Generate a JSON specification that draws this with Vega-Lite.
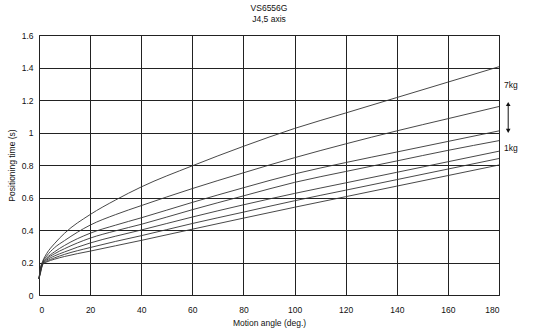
{
  "$schema": "https://vega.github.io/schema/vega-lite/v6.json",
  "width": 460,
  "height": 260,
  "autosize": "none",
  "padding": {"left": 39, "top": 35, "right": 51, "bottom": 33},
  "background": "white",
  "config": {
    "font": "Liberation Sans",
    "view": {"stroke": "#222", "strokeWidth": 1},
    "axis": {"labelFont": "Liberation Sans", "titleFont": "Liberation Sans", "labelFontSize": 8.5, "titleFontSize": 8.5, "titleFontWeight": "normal", "labelColor": "#111", "titleColor": "#111", "gridColor": "#222", "gridOpacity": 1, "gridWidth": 1, "domain": false, "ticks": false, "labelOverlap": false}
  },
  "title": {"text": ["VS6556G", "J4,5 axis"], "fontSize": 8.5, "fontWeight": "normal", "font": "Liberation Sans", "color": "#111", "offset": 8, "lineHeight": 11, "anchor": "middle"},
  "datasets": {
    "curves": [
      {"kg": 7, "a": 0, "t": 0.10}, {"kg": 7, "a": 0.5, "t": 0.16}, {"kg": 7, "a": 1.5, "t": 0.21}, {"kg": 7, "a": 3, "t": 0.255}, {"kg": 7, "a": 6, "t": 0.315}, {"kg": 7, "a": 10, "t": 0.38}, {"kg": 7, "a": 20, "t": 0.495}, {"kg": 7, "a": 30, "t": 0.585}, {"kg": 7, "a": 40, "t": 0.665}, {"kg": 7, "a": 60, "t": 0.795}, {"kg": 7, "a": 80, "t": 0.915}, {"kg": 7, "a": 100, "t": 1.025}, {"kg": 7, "a": 120, "t": 1.12}, {"kg": 7, "a": 140, "t": 1.215}, {"kg": 7, "a": 160, "t": 1.31}, {"kg": 7, "a": 180, "t": 1.405},
      {"kg": 6, "a": 0, "t": 0.10}, {"kg": 6, "a": 0.5, "t": 0.155}, {"kg": 6, "a": 1.5, "t": 0.205}, {"kg": 6, "a": 3, "t": 0.24}, {"kg": 6, "a": 6, "t": 0.29}, {"kg": 6, "a": 10, "t": 0.335}, {"kg": 6, "a": 20, "t": 0.43}, {"kg": 6, "a": 30, "t": 0.495}, {"kg": 6, "a": 40, "t": 0.55}, {"kg": 6, "a": 60, "t": 0.655}, {"kg": 6, "a": 80, "t": 0.752}, {"kg": 6, "a": 100, "t": 0.845}, {"kg": 6, "a": 120, "t": 0.93}, {"kg": 6, "a": 140, "t": 1.01}, {"kg": 6, "a": 160, "t": 1.085}, {"kg": 6, "a": 180, "t": 1.16},
      {"kg": 5, "a": 0, "t": 0.10}, {"kg": 5, "a": 0.5, "t": 0.15}, {"kg": 5, "a": 1.5, "t": 0.2}, {"kg": 5, "a": 3, "t": 0.228}, {"kg": 5, "a": 6, "t": 0.265}, {"kg": 5, "a": 10, "t": 0.305}, {"kg": 5, "a": 20, "t": 0.38}, {"kg": 5, "a": 30, "t": 0.43}, {"kg": 5, "a": 40, "t": 0.475}, {"kg": 5, "a": 60, "t": 0.57}, {"kg": 5, "a": 80, "t": 0.66}, {"kg": 5, "a": 100, "t": 0.745}, {"kg": 5, "a": 120, "t": 0.815}, {"kg": 5, "a": 140, "t": 0.88}, {"kg": 5, "a": 160, "t": 0.945}, {"kg": 5, "a": 180, "t": 1.01},
      {"kg": 4, "a": 0, "t": 0.10}, {"kg": 4, "a": 0.5, "t": 0.145}, {"kg": 4, "a": 1.5, "t": 0.197}, {"kg": 4, "a": 3, "t": 0.222}, {"kg": 4, "a": 6, "t": 0.253}, {"kg": 4, "a": 10, "t": 0.285}, {"kg": 4, "a": 20, "t": 0.35}, {"kg": 4, "a": 30, "t": 0.395}, {"kg": 4, "a": 40, "t": 0.435}, {"kg": 4, "a": 60, "t": 0.525}, {"kg": 4, "a": 80, "t": 0.61}, {"kg": 4, "a": 100, "t": 0.693}, {"kg": 4, "a": 120, "t": 0.76}, {"kg": 4, "a": 140, "t": 0.825}, {"kg": 4, "a": 160, "t": 0.89}, {"kg": 4, "a": 180, "t": 0.95},
      {"kg": 3, "a": 0, "t": 0.10}, {"kg": 3, "a": 0.5, "t": 0.14}, {"kg": 3, "a": 1.5, "t": 0.194}, {"kg": 3, "a": 3, "t": 0.215}, {"kg": 3, "a": 6, "t": 0.24}, {"kg": 3, "a": 10, "t": 0.265}, {"kg": 3, "a": 20, "t": 0.32}, {"kg": 3, "a": 30, "t": 0.362}, {"kg": 3, "a": 40, "t": 0.40}, {"kg": 3, "a": 60, "t": 0.48}, {"kg": 3, "a": 80, "t": 0.555}, {"kg": 3, "a": 100, "t": 0.625}, {"kg": 3, "a": 120, "t": 0.69}, {"kg": 3, "a": 140, "t": 0.755}, {"kg": 3, "a": 160, "t": 0.82}, {"kg": 3, "a": 180, "t": 0.885},
      {"kg": 2, "a": 0, "t": 0.10}, {"kg": 2, "a": 0.5, "t": 0.135}, {"kg": 2, "a": 1.5, "t": 0.191}, {"kg": 2, "a": 3, "t": 0.208}, {"kg": 2, "a": 6, "t": 0.228}, {"kg": 2, "a": 10, "t": 0.25}, {"kg": 2, "a": 20, "t": 0.292}, {"kg": 2, "a": 30, "t": 0.33}, {"kg": 2, "a": 40, "t": 0.365}, {"kg": 2, "a": 60, "t": 0.44}, {"kg": 2, "a": 80, "t": 0.51}, {"kg": 2, "a": 100, "t": 0.58}, {"kg": 2, "a": 120, "t": 0.645}, {"kg": 2, "a": 140, "t": 0.71}, {"kg": 2, "a": 160, "t": 0.775}, {"kg": 2, "a": 180, "t": 0.84},
      {"kg": 1, "a": 0, "t": 0.10}, {"kg": 1, "a": 0.5, "t": 0.13}, {"kg": 1, "a": 1.5, "t": 0.188}, {"kg": 1, "a": 3, "t": 0.203}, {"kg": 1, "a": 6, "t": 0.22}, {"kg": 1, "a": 10, "t": 0.237}, {"kg": 1, "a": 20, "t": 0.27}, {"kg": 1, "a": 30, "t": 0.303}, {"kg": 1, "a": 40, "t": 0.336}, {"kg": 1, "a": 60, "t": 0.405}, {"kg": 1, "a": 80, "t": 0.473}, {"kg": 1, "a": 100, "t": 0.54}, {"kg": 1, "a": 120, "t": 0.605}, {"kg": 1, "a": 140, "t": 0.67}, {"kg": 1, "a": 160, "t": 0.735}, {"kg": 1, "a": 180, "t": 0.80}
    ],
    "labels": [
      {"a": 182, "t": 1.29, "label": "7kg"},
      {"a": 182, "t": 0.905, "label": "1kg"}
    ],
    "arrow": [
      {"a": 183.6, "t1": 1.01, "t2": 1.175}
    ],
    "heads": [
      {"a": 183.6, "t": 1.175, "dir": "up"},
      {"a": 183.6, "t": 1.01, "dir": "down"}
    ]
  },
  "layer": [
    {
      "data": {"name": "curves"},
      "mark": {"type": "line", "interpolate": "monotone", "color": "#333", "strokeWidth": 0.9},
      "encoding": {
        "x": {"field": "a", "type": "quantitative", "scale": {"domain": [0, 180], "nice": false, "zero": true}, "axis": {"values": [0, 20, 40, 60, 80, 100, 120, 140, 160, 180], "grid": true, "title": "Motion angle (deg.)", "labelPadding": 10, "titlePadding": 5}},
        "y": {"field": "t", "type": "quantitative", "scale": {"domain": [0, 1.6], "nice": false}, "axis": {"values": [0, 0.2, 0.4, 0.6, 0.8, 1, 1.2, 1.4, 1.6], "format": "~g", "grid": true, "title": "Positioning time (s)", "labelPadding": 6, "titlePadding": 5}},
        "detail": {"field": "kg", "type": "nominal"}
      }
    },
    {
      "data": {"name": "arrow"},
      "mark": {"type": "rule", "color": "#111", "strokeWidth": 1, "clip": false},
      "encoding": {
        "x": {"field": "a", "type": "quantitative", "axis": {"values": [0, 20, 40, 60, 80, 100, 120, 140, 160, 180], "grid": true, "title": "Motion angle (deg.)", "labelPadding": 10, "titlePadding": 5}},
        "y": {"field": "t1", "type": "quantitative", "axis": {"values": [0, 0.2, 0.4, 0.6, 0.8, 1, 1.2, 1.4, 1.6], "format": "~g", "grid": true, "title": "Positioning time (s)", "labelPadding": 6, "titlePadding": 5}},
        "y2": {"field": "t2"}
      }
    },
    {
      "data": {"name": "heads"},
      "mark": {"type": "point", "filled": true, "color": "#111", "size": 22, "opacity": 1, "clip": false},
      "encoding": {
        "x": {"field": "a", "type": "quantitative", "axis": {"values": [0, 20, 40, 60, 80, 100, 120, 140, 160, 180], "grid": true, "title": "Motion angle (deg.)", "labelPadding": 10, "titlePadding": 5}},
        "y": {"field": "t", "type": "quantitative", "axis": {"values": [0, 0.2, 0.4, 0.6, 0.8, 1, 1.2, 1.4, 1.6], "format": "~g", "grid": true, "title": "Positioning time (s)", "labelPadding": 6, "titlePadding": 5}},
        "shape": {"field": "dir", "type": "nominal", "scale": {"domain": ["up", "down"], "range": ["triangle-up", "triangle-down"]}, "legend": null}
      }
    },
    {
      "data": {"name": "labels"},
      "mark": {"type": "text", "align": "left", "baseline": "middle", "fontSize": 8.5, "font": "Liberation Sans", "color": "#111", "clip": false},
      "encoding": {
        "x": {"field": "a", "type": "quantitative", "axis": {"values": [0, 20, 40, 60, 80, 100, 120, 140, 160, 180], "grid": true, "title": "Motion angle (deg.)", "labelPadding": 10, "titlePadding": 5}},
        "y": {"field": "t", "type": "quantitative", "axis": {"values": [0, 0.2, 0.4, 0.6, 0.8, 1, 1.2, 1.4, 1.6], "format": "~g", "grid": true, "title": "Positioning time (s)", "labelPadding": 6, "titlePadding": 5}},
        "text": {"field": "label", "type": "nominal"}
      }
    }
  ]
}
